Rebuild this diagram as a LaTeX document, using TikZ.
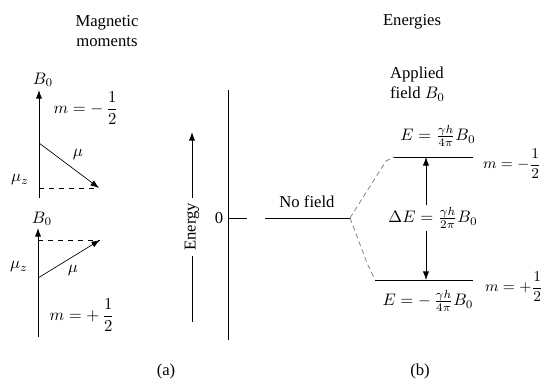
\documentclass[tikz,border=0pt]{standalone}
\usepackage{fontspec}
\setmainfont{Liberation Serif}
\usetikzlibrary{positioning,arrows.meta}

\begin{document}
\begin{tikzpicture}[x=0.6pt,y=-0.6pt, line width=0.55pt,
    every node/.style={font=\normalsize, inner sep=1pt},
    tip/.style={-{Latex[length=1.8mm,width=1.3mm]}},
    split/.style={densely dashed,gray,line width=0.45pt}]
  \useasboundingbox (0,0) rectangle (545,379);
  % (a) magnetic moments
  \node[align=center] (mag) at (107,31) {Magnetic\\moments};
  \coordinate (axA0) at (39,198);
  \coordinate (axA1) at (39,90);
  \coordinate (muA0) at (39,143);
  \coordinate (muA1) at (99,188);
  \draw[tip] (axA0) -- (axA1);
  \node (bA) at (43,80) {$B_0$};
  \node (mA) at (86,108) {$\displaystyle m=-\,\frac{1}{2}$};
  \draw[tip, line width=0.4pt] (muA0) -- (muA1);
  \draw[dashed, line width=0.4pt] (muA1 -| axA0) -- (muA1);
  \node (muLA) at (78,155) {$\mu$};
  \node (muzA) at (20,180) {$\mu_z$};

  \coordinate (axB0) at (38,337);
  \coordinate (axB1) at (38,228);
  \coordinate (muB0) at (38,278);
  \coordinate (muB1) at (100,240);
  \draw[tip] (axB0) -- (axB1);
  \node (bB) at (42,219) {$B_0$};
  \draw[tip, line width=0.4pt] (muB0) -- (muB1);
  \draw[dashed, line width=0.4pt] (muB1 -| axB0) -- (muB1);
  \node (muLB) at (73,271) {$\mu$};
  \node (muzB) at (19,267) {$\mu_z$};
  \node (mB) at (82,315) {$\displaystyle m=+\,\frac{1}{2}$};
  \node (capA) at (166,371) {(a)};

  % energy arrow and axis
  \coordinate (en0) at (192,322);
  \coordinate (en1) at (192,132);
  \draw[tip] (en0) -- node[fill=white, rotate=90, inner sep=3pt] (enlab) {Energy} (en1);
  \coordinate (ax0) at (228,340);
  \coordinate (ax1) at (228,90);
  \draw (ax0) -- (ax1);
  \coordinate (tick) at (247,218);
  \draw (tick -| ax0) -- (tick);
  \node (zero) at (219,218) {0};

  % (b) energies
  \node (ener) at (412,22) {Energies};
  \node[align=left, anchor=west] (appl) at (388,84) {Applied\\field $B_0$};
  \coordinate (nf0) at (265,218);
  \coordinate (nf1) at (350,218);
  \draw (nf0) -- (nf1);
  \node (nofield) at (307,202) {No field};
  \coordinate (hi0) at (394,157);
  \coordinate (hi1) at (473,157);
  \coordinate (lo0) at (375,280);
  \coordinate (lo1) at (473,280);
  \draw (hi0) -- (hi1);
  \draw (lo0) -- (lo1);
  \draw[split] (nf1) -- (386,161) -- (hi0);
  \draw[split] (nf1) -- (367,263) -- (lo0);
  \node (eHi) at (438,136) {$E=\frac{\gamma h}{4\pi}B_0$};
  \node (eLo) at (428,301) {$E=-\,\frac{\gamma h}{4\pi}B_0$};
  \node (dE) at (433,218) {$\Delta E=\frac{\gamma h}{2\pi}B_0$};
  \coordinate (hiA) at (426,157);
  \coordinate (loA) at (426,280);
  \draw[tip, line width=0.4pt] (hiA |- dE.north) -- (hiA);
  \draw[tip, line width=0.4pt] (loA |- dE.south) -- (loA);
  \node[anchor=west, font=\small] (mHi) at (481,164) {$\displaystyle m=-\frac{1}{2}$};
  \node[anchor=west, font=\small] (mLo) at (483,287) {$\displaystyle m=+\frac{1}{2}$};
  \node (capB) at (420,371) {(b)};
\end{tikzpicture}
\end{document}
